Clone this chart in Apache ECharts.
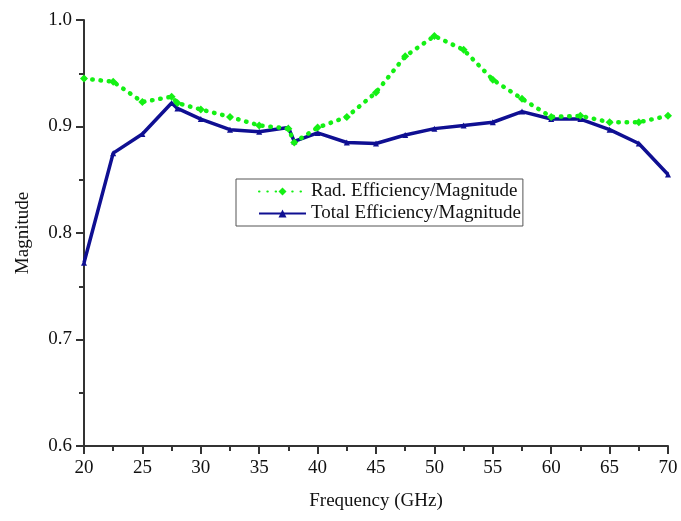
<!DOCTYPE html>
<html>
<head>
<meta charset="utf-8">
<script src="https://cdn.jsdelivr.net/npm/echarts@6/dist/echarts.min.js"></script>
<style>
  html, body { margin: 0; padding: 0; background: #fff; }
  #chart { width: 681px; height: 521px; }
</style>
</head>
<body>
<div id="chart"></div>
<script>
// Frequency points (GHz) shared by both curves
const frequencies = [20, 22.5, 25, 27.5, 28, 30, 32.5, 35, 37.5, 38, 40, 42.5, 45,
                     47.5, 50, 52.5, 55, 57.5, 60, 62.5, 65, 67.5, 70];

// Radiation efficiency (magnitude)
const radEfficiency = [0.945, 0.942, 0.923, 0.928, 0.922, 0.916, 0.909, 0.901, 0.898, 0.885, 0.899, 0.909, 0.932,
                       0.966, 0.985, 0.972, 0.944, 0.926, 0.909, 0.910, 0.904, 0.904, 0.910];

// Total efficiency (magnitude)
const totalEfficiency = [0.772, 0.875, 0.893, 0.922, 0.917, 0.907, 0.897, 0.895, 0.899, 0.886, 0.894, 0.885, 0.884,
                         0.892, 0.898, 0.901, 0.904, 0.914, 0.907, 0.907, 0.897, 0.884, 0.855];

const seriesNames = ['Rad. Efficiency/Magnitude', 'Total Efficiency/Magnitude'];

const xRange = [20, 70];
const yRange = [0.6, 1.0];

const FONT = 'Liberation Serif';
const AXIS_COLOR = '#333';
const GREEN = '#14f014';
const NAVY = '#0f0f92';

const pairs = (xs, ys) => xs.map((x, i) => [x, ys[i]]);

const chart = echarts.init(document.getElementById('chart'), null, { renderer: 'canvas' });

chart.setOption({
  animation: false,
  backgroundColor: '#fff',
  grid: { left: 84, right: 13, top: 20, bottom: 75, containLabel: false },
  legend: {
    orient: 'vertical',
    left: 236,
    top: 179,
    padding: [3, 2, 3, 22],
    itemGap: 3,
    itemWidth: 47,
    itemHeight: 10,
    borderColor: '#555',
    borderWidth: 1,
    borderRadius: 0,
    backgroundColor: '#fff',
    textStyle: { fontFamily: FONT, fontSize: 19, color: '#111' },
    data: seriesNames
  },
  xAxis: {
    type: 'value',
    min: xRange[0],
    max: xRange[1],
    interval: 5,
    name: 'Frequency (GHz)',
    nameLocation: 'middle',
    nameGap: 46,
    nameTextStyle: { fontFamily: FONT, fontSize: 19, color: '#111' },
    axisLine: { show: true, lineStyle: { color: AXIS_COLOR, width: 2 } },
    axisTick: { show: true, inside: false, length: 8, lineStyle: { color: AXIS_COLOR, width: 2 } },
    minorTick: { show: true, splitNumber: 2, length: 5, lineStyle: { color: AXIS_COLOR, width: 2 } },
    axisLabel: { fontFamily: FONT, fontSize: 19, color: '#111', margin: 13 },
    splitLine: { show: false }
  },
  yAxis: {
    type: 'value',
    min: yRange[0],
    max: yRange[1],
    interval: 0.1,
    name: 'Magnitude',
    nameLocation: 'middle',
    nameGap: 51,
    nameTextStyle: { fontFamily: FONT, fontSize: 19, color: '#111' },
    axisLine: { show: true, lineStyle: { color: AXIS_COLOR, width: 2 } },
    axisTick: { show: true, inside: false, length: 8, lineStyle: { color: AXIS_COLOR, width: 2 } },
    minorTick: { show: true, splitNumber: 2, length: 5, lineStyle: { color: AXIS_COLOR, width: 2 } },
    axisLabel: {
      fontFamily: FONT, fontSize: 19, color: '#111', margin: 12,
      formatter: v => v.toFixed(1)
    },
    splitLine: { show: false }
  },
  series: [
    {
      name: seriesNames[1],
      type: 'line',
      data: pairs(frequencies, totalEfficiency),
      symbol: 'triangle',
      symbolSize: 6,
      showAllSymbol: true,
      color: NAVY,
      lineStyle: { color: NAVY, width: 3.5 },
      itemStyle: { color: NAVY },
      z: 2
    },
    {
      name: seriesNames[0],
      type: 'line',
      data: pairs(frequencies, radEfficiency),
      symbol: 'diamond',
      symbolSize: 8,
      showAllSymbol: true,
      color: GREEN,
      lineStyle: { color: GREEN, width: 4.5, type: [0.5, 7.8], cap: 'round' },
      itemStyle: { color: GREEN },
      z: 3
    }
  ]
});
</script>
</body>
</html>
